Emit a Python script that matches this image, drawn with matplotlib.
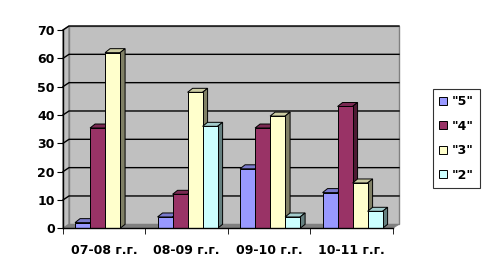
import numpy as np
import matplotlib.pyplot as plt
import matplotlib.colors as mcolors
from matplotlib.patches import Polygon
from matplotlib.lines import Line2D

years = ['07-08 г.г.', '08-09 г.г.', '09-10 г.г.', '10-11 г.г.']
grade_labels = ['"5"', '"4"', '"3"', '"2"']
grade_5 = [2, 4, 21, 12.6]
grade_4 = [35.4, 12, 35.4, 43]
grade_3 = [62, 48, 39.6, 16]
grade_2 = [0, 36, 4, 6]
colors = ['#9999FF', '#993366', '#FFFFCC', '#CCFFFF']

plt.rcParams['font.family'] = ['DejaVu Sans']
plt.rcParams['font.weight'] = 'bold'
plt.rcParams['font.size'] = 9

fig = plt.figure(figsize=(4.89, 2.77), dpi=100)
ax = fig.add_axes([63 / 489, (277 - 228.3) / 277, 330 / 489, 198.3 / 277])
ax.set_xlim(-0.5, 3.5)
ax.set_ylim(0, 70)
ax.patch.set_visible(False)

# pixel -> data scale for the fake 3d depth
bbox = ax.get_window_extent()
ux = 4.0 / bbox.width
uy = 70.0 / bbox.height


def shift(x, y, dx, dy):
    return (x + dx * ux, y + dy * uy)


# walls, floor and gridlines
x0, x1 = -0.5, 3.5
wdx, wdy = 6, 4
back = Polygon([shift(x0, 0, wdx, wdy), shift(x1, 0, wdx, wdy),
                shift(x1, 70, wdx, wdy), shift(x0, 70, wdx, wdy)],
               closed=True, fc='#C0C0C0', ec='#808080', lw=1, zorder=0, clip_on=False)
ax.add_patch(back)
side = Polygon([(x0, 0), shift(x0, 0, wdx, wdy), shift(x0, 70, wdx, wdy), (x0, 70)],
               closed=True, fc='#C0C0C0', ec='#808080', lw=1, zorder=0.1, clip_on=False)
ax.add_patch(side)
floor = Polygon([(x0, 0), (x1, 0), shift(x1, 0, wdx, wdy), shift(x0, 0, wdx, wdy)],
                closed=True, fc='#808080', ec='#808080', lw=0.5, zorder=0.2, clip_on=False)
ax.add_patch(floor)
for v in range(10, 71, 10):
    pts = [(x0, v), shift(x0, v, wdx, wdy), shift(x1, v, wdx, wdy)]
    ax.add_line(Line2D([p[0] for p in pts], [p[1] for p in pts], color='black',
                       lw=1, zorder=0.5, clip_on=False))

# bars
series = [grade_5, grade_4, grade_3, grade_2]
x = np.arange(len(years))
w = 0.182
bdx, bdy = 5, 4
handles = []
for i, (vals, c) in enumerate(zip(series, colors)):
    pos = x + (i - 1.5) * w + 0.01
    rgb = np.array(mcolors.to_rgb(c))
    for xp, h in zip(pos, vals):
        if h <= 0:
            continue
        l, r = xp - w / 2, xp + w / 2
        top = Polygon([(l, h), (r, h), shift(r, h, bdx, bdy), shift(l, h, bdx, bdy)],
                      closed=True, fc=rgb * 0.8, ec='black', lw=0.7, zorder=2 + i * 0.1)
        sd = Polygon([(r, 0), shift(r, 0, bdx, bdy), shift(r, h, bdx, bdy), (r, h)],
                     closed=True, fc=rgb * 0.5, ec='black', lw=0.7, zorder=2 + i * 0.1)
        ax.add_patch(top)
        ax.add_patch(sd)
    bars = ax.bar(pos, vals, w, color=c, edgecolor='black', linewidth=0.7,
                  zorder=2.05 + i * 0.1, label=grade_labels[i])
    handles.append(bars)

# axes
for s in ['top', 'right']:
    ax.spines[s].set_visible(False)
ax.spines['left'].set_linewidth(1)
ax.spines['bottom'].set_linewidth(1)
ax.spines['left'].set_zorder(3)
ax.spines['bottom'].set_zorder(3)
ax.set_yticks(range(0, 71, 10))
ax.set_xticks(x)
ax.set_xticklabels(years)
ax.set_xticks(np.arange(-0.5, 3.6, 1), minor=True)
ax.tick_params(axis='x', which='major', length=0, pad=11)
ax.tick_params(axis='x', which='minor', length=4, direction='out')
ax.tick_params(axis='y', length=4, direction='out', pad=2)

leg = fig.legend(handles=handles, labels=grade_labels, loc='center left',
                 bbox_to_anchor=(433 / 489, 1 - 138.5 / 277), frameon=True,
                 fancybox=False, edgecolor='black', handlelength=0.62,
                 handleheight=0.62, labelspacing=0.92, handletextpad=0.4,
                 borderpad=0.5, borderaxespad=0)
leg.get_frame().set_linewidth(0.8)

fig.savefig('out.png', dpi=100)
